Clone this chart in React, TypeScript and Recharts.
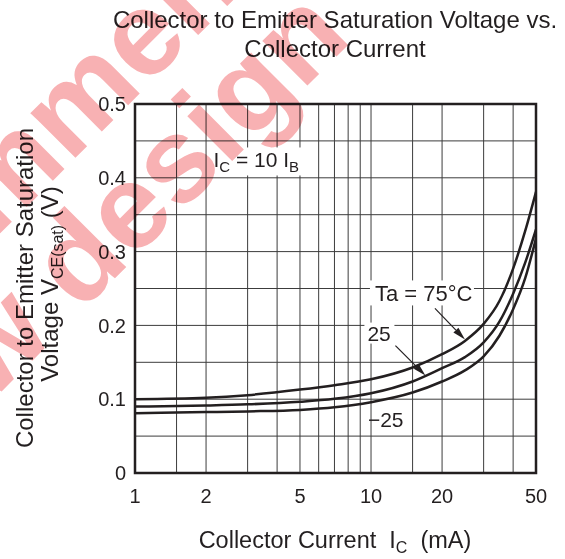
import { CartesianGrid, Line, LineChart, ReferenceArea, ReferenceDot, XAxis, YAxis } from 'recharts'

// collector current (mA) and V_CE(sat) (V) at each ambient temperature
const currentMA = [1, 2, 3, 5, 7, 10, 15, 20, 25, 30, 35, 40, 45, 50]
const vce75 = [0.1, 0.102, 0.1055, 0.113, 0.119, 0.127, 0.143, 0.161, 0.179, 0.202, 0.233, 0.277, 0.328, 0.381]
const vce25 = [0.09, 0.0915, 0.093, 0.0965, 0.1005, 0.108, 0.124, 0.142, 0.157, 0.177, 0.205, 0.243, 0.285, 0.33]
const vceMinus25 = [0.081, 0.0825, 0.0835, 0.0855, 0.089, 0.096, 0.109, 0.124, 0.139, 0.158, 0.186, 0.222, 0.264, 0.318]

const xGridTicks = [1, 1.5, 2, 3, 4, 5, 6, 7, 8, 9, 10, 15, 20, 30, 40, 50]
const xLabelTicks = [1, 2, 5, 10, 20, 50]
const yGridTicks = [0, 0.05, 0.1, 0.15, 0.2, 0.25, 0.3, 0.35, 0.4, 0.45, 0.5]
const yLabelTicks = [0, 0.1, 0.2, 0.3, 0.4, 0.5]

const INK = '#231f20'
const FONT = '"Liberation Sans", Arial, Helvetica, sans-serif'

const data = currentMA.map((x, i) => ({
  x,
  t75: vce75[i],
  t25: vce25[i],
  tm25: vceMinus25[i],
}))

function Arrow({ x1, y1, x2, y2 }: { x1: number; y1: number; x2: number; y2: number }) {
  const ang = Math.atan2(y2 - y1, x2 - x1)
  const len = 13
  const half = 3.5
  const bx = x2 - len * Math.cos(ang)
  const by = y2 - len * Math.sin(ang)
  const px = -Math.sin(ang) * half
  const py = Math.cos(ang) * half
  return (
    <g>
      <line x1={x1} y1={y1} x2={bx} y2={by} stroke={INK} strokeWidth={1.2} />
      <polygon points={`${x2},${y2} ${bx + px},${by + py} ${bx - px},${by - py}`} fill={INK} />
    </g>
  )
}

const ratioLabel = (p: any) => {
  const { cx, cy } = p
  return (
    <g>
      <rect x={cx - 5} y={cy - 20} width={97} height={28} fill="#fff" />
      <text x={cx} y={cy} fontSize={21} fontFamily={FONT} fill={INK}>
        I<tspan fontSize={15} dy={5}>C</tspan>
        <tspan dy={-5}> = 10 I</tspan>
        <tspan fontSize={15} dy={5}>B</tspan>
      </text>
    </g>
  )
}

const label75 = (p: any) => {
  const { cx, cy } = p
  return (
    <g>
      <rect x={cx - 95} y={cy - 59} width={104} height={25} fill="#fff" />
      <text x={cx - 90} y={cy - 38} fontSize={22} fontFamily={FONT} fill={INK}>
        Ta = 75°C
      </text>
      <Arrow x1={cx - 30} y1={cy - 31} x2={cx} y2={cy} />
    </g>
  )
}

const label25 = (p: any) => {
  const { cx, cy } = p
  return (
    <g>
      <rect x={cx - 61} y={cy - 53} width={30} height={21} fill="#fff" />
      <text x={cx - 58} y={cy - 35} fontSize={21} fontFamily={FONT} fill={INK}>
        25
      </text>
      <Arrow x1={cx - 30} y1={cy - 30} x2={cx} y2={cy} />
    </g>
  )
}

const labelMinus25 = (p: any) => {
  const { cx, cy } = p
  return (
    <text x={cx} y={cy} fontSize={21} fontFamily={FONT} fill={INK}>
      −25
    </text>
  )
}

export default function App() {
  return (
    <div style={{ position: 'relative', width: 565, height: 559, background: '#fff', overflow: 'hidden' }}>
      <style>{'body{margin:0}'}</style>
      <LineChart
        width={565}
        height={559}
        data={data}
        margin={{ top: 104, right: 29, bottom: 46, left: 75 }}
        style={{ fontFamily: FONT }}
      >
        <CartesianGrid stroke="#3c3c3c" strokeWidth={1} />
        <XAxis
          dataKey="x"
          type="number"
          scale="log"
          domain={[1, 50]}
          ticks={xGridTicks}
          interval={0}
          height={40}
          axisLine={false}
          tickLine={false}
          tickSize={6}
          tickMargin={10}
          tick={{ fontSize: 20, fill: INK }}
          tickFormatter={(v) => (xLabelTicks.includes(v) ? String(v) : '')}
          allowDataOverflow
        />
        <YAxis
          type="number"
          domain={[0, 0.5]}
          ticks={yGridTicks}
          interval={0}
          width={60}
          axisLine={false}
          tickLine={false}
          tickSize={6}
          tickMargin={3}
          tick={{ fontSize: 20, fill: INK }}
          tickFormatter={(v) => (yLabelTicks.includes(v) ? (v === 0 ? '0' : v.toFixed(1)) : '')}
        />
        <ReferenceArea x1={1} x2={50} y1={0} y2={0.5} fill="none" stroke={INK} strokeWidth={2.5} />
        <Line type="monotone" dataKey="t75" stroke={INK} strokeWidth={2.5} dot={false} isAnimationActive={false} />
        <Line type="monotone" dataKey="t25" stroke={INK} strokeWidth={2.5} dot={false} isAnimationActive={false} />
        <Line type="monotone" dataKey="tm25" stroke={INK} strokeWidth={2.5} dot={false} isAnimationActive={false} />
        <ReferenceDot x={2.15} y={0.414} r={0} shape={ratioLabel} />
        <ReferenceDot x={25} y={0.181} r={0} shape={label75} />
        <ReferenceDot x={17} y={0.132} r={0} shape={label25} />
        <ReferenceDot x={9.7} y={0.0625} r={0} shape={labelMinus25} />
      </LineChart>

      <svg
        width={565}
        height={559}
        style={{ position: 'absolute', left: 0, top: 0, pointerEvents: 'none' }}
        fontFamily={FONT}
        fill={INK}
      >
        <text x={335} y={28} textAnchor="middle" fontSize={24}>
          Collector to Emitter Saturation Voltage vs.
        </text>
        <text x={335} y={57} textAnchor="middle" fontSize={24}>
          Collector Current
        </text>
        <text x={33} y={288} transform="rotate(-90 33 288)" textAnchor="middle" fontSize={24}>
          Collector to Emitter Saturation
        </text>
        <text x={58} y={284} transform="rotate(-90 58 284)" textAnchor="middle" fontSize={24}>
          Voltage V<tspan fontSize={16} dy={5}>CE(sat)</tspan>
          <tspan dy={-5}> (V)</tspan>
        </text>
        <text x={335} y={548} textAnchor="middle" fontSize={23.5}>
          Collector Current{'\u00a0\u00a0'}I<tspan fontSize={16} dy={5}>C</tspan>
          <tspan dy={-5}>{'\u00a0\u00a0'}(mA)</tspan>
        </text>
      </svg>

      <svg
        width={565}
        height={559}
        style={{ position: 'absolute', left: 0, top: 0, pointerEvents: 'none', mixBlendMode: 'multiply' }}
      >
        <g transform="rotate(-45)" fontFamily={FONT} fontWeight="bold" fontSize={120} fill="#f8b1b3">
          <text x={-660} y={165}>Not recommended</text>
          <text x={-625} y={278}>for new design</text>
        </g>
      </svg>
    </div>
  )
}
